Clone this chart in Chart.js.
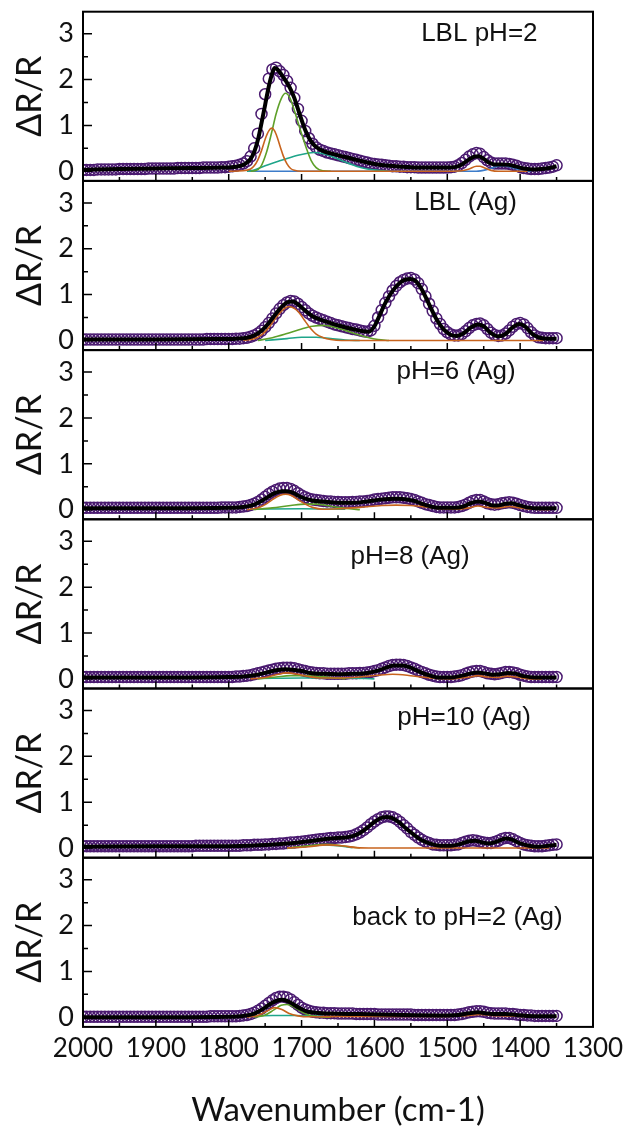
<!DOCTYPE html>
<html><head><meta charset="utf-8">
<script src="https://cdn.jsdelivr.net/npm/chart.js@4.4.1/dist/chart.umd.min.js"></script>
<style>
html,body{margin:0;padding:0;background:#fff;}
#wrap{position:relative;width:628px;height:1133px;background:#fff;}
#wrap canvas{position:absolute;left:0;top:0;}
</style></head><body><div id="wrap"></div>
<script>
// ---------- data ----------
const wavenumber = [2000,1995,1990,1985,1980,1975,1970,1965,1960,1955,1950,1945,1940,1935,1930,1925,1920,1915,1910,1905,1900,
1895,1890,1885,1880,1875,1870,1865,1860,1855,1850,1845,1840,1835,1830,1825,1820,1815,1810,1805,1800,
1795,1790,1785,1780,1775,1770,1765,1760,1755,1750,1745,1740,1735,1730,1725,1720,1715,1710,1705,1700,
1695,1690,1685,1680,1675,1670,1665,1660,1655,1650,1645,1640,1635,1630,1625,1620,1615,1610,1605,1600,
1595,1590,1585,1580,1575,1570,1565,1560,1555,1550,1545,1540,1535,1530,1525,1520,1515,1510,1505,1500,
1495,1490,1485,1480,1475,1470,1465,1460,1455,1450,1445,1440,1435,1430,1425,1420,1415,1410,1405,1400,
1395,1390,1385,1380,1375,1370,1365,1360,1355,1350];

const xTickValues = [2000,1900,1800,1700,1600,1500,1400,1300];
const xMinorTickValues = [1950,1850,1750,1650,1550,1450,1350];
const yTickValues = [0,1,2,3];
const yMinorTickValues = [0.5,1.5,2.5];

const panelLabels = ['LBL pH=2','LBL (Ag)','pH=6 (Ag)','pH=8 (Ag)','pH=10 (Ag)','back to pH=2 (Ag)'];

// panel 1 : LBL pH=2
const p1Data = [0.03,0.03,0.03,0.03,0.04,0.04,0.04,0.04,0.04,0.04,0.05,0.05,0.05,0.05,0.05,0.05,0.05,0.05,0.06,0.06,0.06,
0.06,0.06,0.06,0.06,0.06,0.07,0.07,0.07,0.07,0.07,0.07,0.07,0.08,0.08,0.08,0.08,0.08,0.09,0.09,0.10,
0.11,0.12,0.14,0.17,0.22,0.32,0.50,0.82,1.25,1.68,2.02,2.22,2.26,2.18,2.10,1.97,1.82,1.60,1.36,1.10,
0.88,0.72,0.60,0.52,0.47,0.44,0.41,0.39,0.37,0.35,0.33,0.31,0.29,0.27,0.25,0.23,0.21,0.19,0.17,0.16,
0.15,0.14,0.13,0.12,0.11,0.11,0.10,0.10,0.09,0.09,0.09,0.08,0.08,0.08,0.08,0.08,0.08,0.08,0.08,0.08,
0.09,0.10,0.13,0.18,0.25,0.32,0.37,0.40,0.38,0.31,0.24,0.19,0.17,0.17,0.17,0.17,0.16,0.14,0.12,0.09,
0.07,0.06,0.05,0.05,0.05,0.06,0.07,0.08,0.10,0.13];
const p1Fit = [[2000,0.03],[1950,0.05],[1900,0.06],[1850,0.07],[1810,0.08],[1790,0.10],[1780,0.14],[1775,0.19],[1770,0.27],[1765,0.42],[1760,0.68],[1755,1.05],[1750,1.45],[1745,1.85],[1740,2.15],[1737,2.25],[1733,2.22],[1728,2.12],[1722,1.98],[1716,1.82],[1710,1.60],[1705,1.36],[1700,1.12],[1695,0.90],[1690,0.73],[1685,0.61],[1680,0.53],[1670,0.44],[1660,0.39],[1640,0.31],[1620,0.23],[1600,0.16],[1580,0.12],[1560,0.10],[1540,0.08],[1500,0.08],[1490,0.09],[1480,0.15],[1470,0.26],[1463,0.32],[1457,0.33],[1450,0.27],[1443,0.19],[1435,0.15],[1425,0.15],[1415,0.14],[1405,0.10],[1395,0.06],[1380,0.04],[1370,0.05],[1360,0.07],[1350,0.11]];
const p1Orange = [[1800,0],[1780,0.01],[1770,0.05],[1765,0.12],[1760,0.25],[1755,0.45],[1750,0.70],[1745,0.88],[1741,0.94],[1737,0.88],[1733,0.72],[1729,0.52],[1725,0.33],[1720,0.16],[1715,0.06],[1710,0.02],[1700,0],[1600,0],[1500,0],[1480,0.01],[1470,0.05],[1460,0.11],[1455,0.11],[1450,0.08],[1440,0.02],[1430,0],[1390,0]];
const p1Green = [[1770,0],[1764,0.01],[1756,0.10],[1748,0.42],[1741,0.85],[1735,1.25],[1728,1.58],[1722,1.70],[1716,1.60],[1710,1.33],[1704,1.02],[1698,0.72],[1692,0.44],[1687,0.24],[1680,0.08],[1671,0.01],[1660,0]];
const p1Teal = [[1775,0],[1765,0.03],[1750,0.12],[1735,0.20],[1720,0.28],[1705,0.35],[1690,0.40],[1683,0.41],[1670,0.38],[1655,0.30],[1640,0.20],[1625,0.11],[1610,0.05],[1595,0.02],[1580,0]];
const p1Blue = [[1772,0],[1700,0],[1600,0],[1500,0],[1460,0],[1445,0.04],[1435,0.09],[1425,0.12],[1415,0.10],[1405,0.05],[1395,0.01],[1385,0]];

// panel 2 : LBL (Ag)
const p2Data = [0.02,0.02,0.02,0.02,0.02,0.02,0.02,0.02,0.02,0.02,0.02,0.02,0.02,0.02,0.02,0.02,0.02,0.02,0.02,0.02,0.02,
0.02,0.02,0.02,0.02,0.02,0.02,0.02,0.02,0.02,0.02,0.02,0.02,0.02,0.03,0.03,0.03,0.03,0.03,0.03,0.03,
0.03,0.04,0.04,0.05,0.06,0.08,0.11,0.15,0.21,0.29,0.38,0.48,0.59,0.69,0.77,0.83,0.86,0.85,0.80,0.73,
0.66,0.59,0.54,0.50,0.47,0.44,0.41,0.38,0.35,0.33,0.31,0.29,0.27,0.25,0.24,0.22,0.20,0.19,0.22,0.32,
0.50,0.66,0.82,0.96,1.09,1.19,1.27,1.32,1.35,1.36,1.33,1.25,1.12,0.96,0.80,0.64,0.48,0.36,0.25,0.18,
0.13,0.11,0.11,0.14,0.20,0.27,0.33,0.36,0.37,0.33,0.25,0.17,0.12,0.10,0.11,0.15,0.22,0.30,0.36,0.38,
0.35,0.27,0.18,0.11,0.07,0.06,0.05,0.05,0.05,0.05];
const p2Fit = [[2000,0.02],[1900,0.02],[1820,0.03],[1790,0.04],[1775,0.06],[1765,0.11],[1755,0.21],[1745,0.38],[1735,0.59],[1725,0.77],[1718,0.84],[1712,0.85],[1705,0.79],[1695,0.65],[1685,0.53],[1675,0.46],[1660,0.38],[1645,0.31],[1630,0.25],[1615,0.20],[1608,0.19],[1600,0.31],[1592,0.58],[1585,0.82],[1575,1.08],[1565,1.26],[1557,1.33],[1550,1.34],[1543,1.29],[1535,1.11],[1525,0.79],[1515,0.47],[1505,0.24],[1495,0.12],[1487,0.10],[1478,0.15],[1468,0.28],[1458,0.35],[1450,0.31],[1440,0.16],[1430,0.09],[1420,0.14],[1410,0.29],[1401,0.36],[1393,0.30],[1383,0.14],[1373,0.06],[1360,0.04],[1350,0.04]];
const p2Orange = [[1780,0],[1765,0.04],[1755,0.12],[1745,0.28],[1735,0.50],[1725,0.68],[1718,0.74],[1710,0.70],[1703,0.60],[1696,0.44],[1689,0.29],[1680,0.14],[1670,0.06],[1660,0.02],[1645,0],[1550,0],[1450,0],[1368,0]];
const p2Green = [[1760,0],[1740,0.06],[1720,0.15],[1700,0.25],[1685,0.31],[1670,0.33],[1655,0.29],[1640,0.22],[1625,0.14],[1610,0.07],[1595,0.02],[1580,0]];
const p2Teal = [[1750,0],[1720,0.04],[1700,0.07],[1680,0.07],[1660,0.04],[1640,0.01],[1620,0]];

// panel 3 : pH=6 (Ag)
const p3Data = [0.04,0.04,0.04,0.04,0.04,0.04,0.04,0.04,0.04,0.04,0.04,0.04,0.04,0.04,0.04,0.04,0.04,0.04,0.04,0.04,0.04,
0.04,0.04,0.04,0.04,0.04,0.04,0.04,0.04,0.04,0.04,0.04,0.04,0.04,0.04,0.04,0.04,0.04,0.05,0.05,0.05,
0.05,0.05,0.06,0.07,0.08,0.10,0.13,0.17,0.22,0.28,0.34,0.39,0.43,0.46,0.47,0.47,0.45,0.41,0.36,0.31,
0.27,0.24,0.22,0.21,0.20,0.19,0.18,0.18,0.17,0.17,0.16,0.16,0.16,0.17,0.17,0.18,0.18,0.19,0.20,0.22,
0.23,0.24,0.25,0.26,0.27,0.27,0.27,0.26,0.25,0.23,0.21,0.18,0.15,0.12,0.10,0.08,0.06,0.05,0.05,0.05,
0.05,0.05,0.06,0.08,0.11,0.15,0.19,0.21,0.21,0.18,0.14,0.12,0.11,0.12,0.14,0.15,0.16,0.15,0.13,0.10,
0.08,0.06,0.05,0.04,0.04,0.04,0.04,0.04,0.04,0.04];
const p3Fit = [[2000,0.03],[1900,0.03],[1800,0.04],[1780,0.06],[1765,0.11],[1755,0.19],[1745,0.29],[1735,0.37],[1727,0.40],[1720,0.40],[1712,0.37],[1705,0.31],[1695,0.24],[1685,0.20],[1670,0.18],[1650,0.15],[1630,0.15],[1610,0.18],[1590,0.22],[1575,0.24],[1565,0.24],[1555,0.22],[1545,0.19],[1535,0.13],[1520,0.06],[1505,0.04],[1490,0.04],[1478,0.07],[1468,0.14],[1458,0.18],[1450,0.16],[1440,0.10],[1432,0.09],[1420,0.13],[1412,0.14],[1402,0.10],[1390,0.05],[1375,0.03],[1350,0.03]];
const p3Orange = [[1775,0],[1760,0.04],[1750,0.11],[1740,0.22],[1730,0.31],[1722,0.34],[1714,0.31],[1705,0.22],[1695,0.12],[1685,0.05],[1670,0.01],[1650,0.02],[1620,0.05],[1590,0.09],[1570,0.10],[1550,0.09],[1530,0.06],[1510,0.02],[1490,0.01],[1470,0.04],[1458,0.08],[1445,0.05],[1430,0.04],[1415,0.07],[1400,0.04],[1380,0.01],[1360,0]];
const p3Green = [[1765,0],[1740,0.04],[1715,0.09],[1695,0.12],[1680,0.12],[1665,0.09],[1650,0.05],[1635,0.02],[1620,0]];
const p3Teal = [[1770,0.01],[1700,0.02],[1640,0.01]];

// panel 4 : pH=8 (Ag)
const p4Data = [0.04,0.04,0.04,0.04,0.04,0.04,0.04,0.04,0.04,0.04,0.04,0.04,0.04,0.04,0.04,0.04,0.04,0.04,0.04,0.04,0.04,
0.04,0.04,0.04,0.04,0.04,0.04,0.04,0.04,0.04,0.04,0.04,0.04,0.04,0.04,0.04,0.04,0.04,0.04,0.04,0.04,
0.04,0.05,0.05,0.06,0.07,0.08,0.10,0.12,0.14,0.16,0.18,0.20,0.22,0.23,0.24,0.24,0.24,0.23,0.21,0.19,
0.17,0.15,0.14,0.13,0.12,0.12,0.11,0.11,0.11,0.11,0.11,0.11,0.12,0.12,0.12,0.13,0.13,0.14,0.15,0.17,
0.19,0.22,0.25,0.28,0.30,0.31,0.31,0.30,0.28,0.25,0.22,0.18,0.15,0.12,0.09,0.07,0.05,0.04,0.04,0.04,
0.04,0.05,0.06,0.08,0.11,0.14,0.16,0.17,0.17,0.15,0.12,0.11,0.10,0.11,0.13,0.15,0.15,0.14,0.12,0.09,
0.07,0.05,0.04,0.04,0.04,0.04,0.04,0.04,0.04,0.04];
const p4Fit = [[2000,0.03],[1900,0.03],[1800,0.04],[1780,0.05],[1765,0.08],[1750,0.13],[1735,0.19],[1722,0.21],[1712,0.20],[1700,0.17],[1688,0.13],[1670,0.11],[1650,0.10],[1630,0.11],[1610,0.13],[1595,0.18],[1583,0.25],[1572,0.29],[1563,0.29],[1553,0.26],[1540,0.17],[1525,0.08],[1510,0.03],[1495,0.03],[1480,0.07],[1468,0.12],[1458,0.14],[1448,0.12],[1438,0.09],[1428,0.10],[1417,0.13],[1408,0.12],[1395,0.06],[1380,0.03],[1350,0.03]];
const p4Orange = [[1770,0],[1750,0.03],[1735,0.09],[1720,0.13],[1705,0.10],[1690,0.05],[1675,0.02],[1650,0.02],[1620,0.04],[1595,0.08],[1575,0.10],[1555,0.08],[1535,0.04],[1515,0.01],[1495,0],[1470,0.04],[1458,0.07],[1445,0.04],[1430,0.03],[1418,0.06],[1405,0.04],[1385,0],[1370,0]];
const p4Green = [[1760,0],[1735,0.04],[1715,0.07],[1695,0.07],[1675,0.05],[1655,0.02],[1640,0]];
const p4Teal = [[1760,0.01],[1700,0.02],[1640,0.02],[1600,0]];

// panel 5 : pH=10 (Ag)
const p5Data = [0.04,0.04,0.04,0.04,0.04,0.04,0.04,0.04,0.04,0.04,0.04,0.04,0.04,0.04,0.04,0.04,0.04,0.04,0.04,0.04,0.04,
0.04,0.04,0.04,0.04,0.04,0.04,0.04,0.04,0.04,0.04,0.05,0.05,0.05,0.05,0.05,0.05,0.05,0.05,0.05,0.05,
0.05,0.05,0.05,0.06,0.06,0.06,0.07,0.07,0.07,0.08,0.08,0.09,0.09,0.10,0.10,0.11,0.12,0.12,0.13,0.14,
0.15,0.16,0.17,0.18,0.19,0.20,0.21,0.22,0.22,0.23,0.23,0.24,0.25,0.27,0.30,0.34,0.39,0.45,0.52,0.58,
0.63,0.67,0.69,0.69,0.67,0.63,0.57,0.50,0.43,0.35,0.29,0.23,0.18,0.14,0.11,0.08,0.07,0.06,0.06,0.06,
0.06,0.07,0.08,0.11,0.14,0.16,0.17,0.16,0.14,0.12,0.11,0.11,0.13,0.16,0.20,0.22,0.22,0.19,0.15,0.11,
0.08,0.06,0.05,0.04,0.04,0.04,0.05,0.06,0.07,0.08];
const p5Fit = [[2000,0.03],[1900,0.04],[1800,0.04],[1760,0.06],[1720,0.10],[1690,0.15],[1660,0.21],[1640,0.23],[1630,0.26],[1620,0.33],[1610,0.44],[1600,0.57],[1592,0.65],[1584,0.68],[1576,0.66],[1566,0.56],[1556,0.42],[1545,0.28],[1535,0.17],[1522,0.09],[1510,0.05],[1495,0.05],[1482,0.09],[1470,0.15],[1462,0.16],[1452,0.12],[1442,0.10],[1432,0.14],[1420,0.21],[1412,0.19],[1400,0.10],[1388,0.05],[1375,0.03],[1362,0.05],[1350,0.07]];
const p5Orange = [[1720,0],[1690,0.03],[1665,0.07],[1645,0.05],[1625,0.01],[1600,0],[1500,0],[1400,0],[1360,0]];
const p5Green = [[1720,0],[1690,0.05],[1665,0.08],[1640,0.04],[1620,0]];
const p5Teal = [[1720,0],[1690,0.04],[1670,0.07],[1650,0.05],[1630,0.01]];

// panel 6 : back to pH=2 (Ag)
const p6Data = [0.01,0.01,0.01,0.01,0.01,0.01,0.01,0.01,0.01,0.01,0.01,0.01,0.01,0.01,0.01,0.01,0.01,0.01,0.01,0.01,0.01,
0.01,0.01,0.01,0.01,0.01,0.01,0.01,0.01,0.01,0.01,0.01,0.01,0.01,0.01,0.02,0.02,0.02,0.02,0.02,0.02,
0.02,0.02,0.03,0.04,0.05,0.07,0.10,0.14,0.19,0.25,0.31,0.37,0.42,0.45,0.45,0.43,0.39,0.33,0.27,0.21,
0.17,0.14,0.12,0.11,0.10,0.10,0.09,0.09,0.09,0.08,0.08,0.08,0.08,0.08,0.07,0.07,0.07,0.07,0.07,0.07,
0.06,0.06,0.06,0.06,0.06,0.06,0.06,0.06,0.06,0.06,0.05,0.05,0.05,0.05,0.05,0.05,0.05,0.05,0.05,0.05,
0.05,0.05,0.06,0.07,0.09,0.11,0.12,0.13,0.13,0.12,0.10,0.09,0.08,0.08,0.08,0.08,0.07,0.07,0.06,0.05,
0.05,0.04,0.04,0.03,0.03,0.03,0.03,0.03,0.03,0.03];
const p6Fit = [[2000,0.00],[1900,0.00],[1800,0.01],[1780,0.03],[1765,0.08],[1752,0.19],[1742,0.30],[1734,0.36],[1727,0.38],[1720,0.36],[1712,0.29],[1703,0.20],[1693,0.13],[1680,0.10],[1660,0.08],[1620,0.07],[1560,0.05],[1500,0.04],[1485,0.05],[1470,0.09],[1458,0.11],[1448,0.09],[1435,0.07],[1420,0.07],[1405,0.05],[1390,0.03],[1370,0.02],[1350,0.02]];
const p6Orange = [[1775,0],[1760,0.04],[1748,0.13],[1737,0.21],[1727,0.17],[1717,0.08],[1705,0.03],[1690,0.01],[1650,0.02],[1600,0.02],[1500,0.02],[1470,0.04],[1455,0.06],[1440,0.04],[1420,0.03],[1400,0.02],[1370,0.01],[1350,0.01]];
const p6Green = [[1765,0],[1750,0.05],[1738,0.16],[1728,0.26],[1720,0.28],[1710,0.22],[1700,0.12],[1690,0.05],[1675,0.01],[1660,0]];
const p6Teal = [[1765,0.03],[1740,0.04],[1710,0.04],[1690,0.03],[1670,0.02]];

// ---------- layout / style ----------
const PANEL_TOP = 11.7, PANEL_H = 169.2, AXIS_RIGHT = 593, AXIS_LEFT = 83, W = 628, H = 1133;
const Y_MIN = -0.21, Y_MAX = 3.48;
const labelAnchorWn = [1456,1475,1488,1551,1477,1486];
const labelAnchorY = [3.0,3.01,3.0,2.66,2.84,2.16];
const PURPLE = '#4a1a70', ORANGE = '#c8641e', GREEN = '#5ea02a', TEAL = '#1fa58a', BLUE = '#3d7cc9';

const panels = [
  {data:p1Data, fit:p1Fit, comps:[[p1Orange,ORANGE],[p1Green,GREEN],[p1Teal,TEAL],[p1Blue,BLUE]]},
  {data:p2Data, fit:p2Fit, comps:[[p2Orange,ORANGE],[p2Green,GREEN],[p2Teal,TEAL]]},
  {data:p3Data, fit:p3Fit, comps:[[p3Orange,ORANGE],[p3Green,GREEN],[p3Teal,TEAL]]},
  {data:p4Data, fit:p4Fit, comps:[[p4Orange,ORANGE],[p4Green,GREEN],[p4Teal,TEAL]]},
  {data:p5Data, fit:p5Fit, comps:[[p5Orange,ORANGE],[p5Green,GREEN],[p5Teal,TEAL]]},
  {data:p6Data, fit:p6Fit, comps:[[p6Orange,ORANGE],[p6Green,GREEN],[p6Teal,TEAL]]}
];

const framePlugin = {
  id: 'frame',
  afterDraw(chart, args, opts) {
    const {ctx, chartArea: a} = chart;
    const x = chart.scales.x, y = chart.scales.y;
    ctx.save();
    ctx.strokeStyle = '#000';
    ctx.lineWidth = 1.5;
    ctx.beginPath();
    xTickValues.forEach(v => { if (v > 1300 && v < 2000) { const p = x.getPixelForValue(v); ctx.moveTo(p, a.bottom); ctx.lineTo(p, a.bottom - 7); } });
    xMinorTickValues.forEach(v => { const p = x.getPixelForValue(v); ctx.moveTo(p, a.bottom); ctx.lineTo(p, a.bottom - 4); });
    yTickValues.forEach(v => { const p = y.getPixelForValue(v); ctx.moveTo(a.left, p); ctx.lineTo(a.left + 9, p); });
    yMinorTickValues.forEach(v => { const p = y.getPixelForValue(v); ctx.moveTo(a.left, p); ctx.lineTo(a.left + 5, p); });
    ctx.stroke();
    ctx.lineWidth = 2;
    ctx.strokeRect(a.left, a.top, a.right - a.left, a.bottom - a.top);
    ctx.fillStyle = '#111';
    ctx.font = '26px "Liberation Sans", Arial, sans-serif';
    ctx.textAlign = 'center';
    ctx.textBaseline = 'middle';
    ctx.fillText(opts.label, x.getPixelForValue(opts.wn), y.getPixelForValue(opts.val));
    ctx.restore();
  }
};

const wrap = document.getElementById('wrap');
panels.forEach((p, i) => {
  const cv = document.createElement('canvas');
  cv.width = W; cv.height = H;
  cv.style.width = W + 'px'; cv.style.height = H + 'px';
  wrap.appendChild(cv);
  const top = PANEL_TOP + i * PANEL_H;
  const last = i === panels.length - 1;
  const bottomPad = last ? 0 : H - (top + PANEL_H);
  const datasets = [];
  datasets.push({data: p.fit.map(([x, y]) => ({x, y})), borderColor: '#000', borderWidth: 4,
    pointRadius: 0, cubicInterpolationMode: 'monotone', fill: false});
  p.comps.forEach(([arr, col]) => datasets.push({data: arr.map(([x, y]) => ({x, y})), borderColor: col,
    borderWidth: 1.6, pointRadius: 0, cubicInterpolationMode: 'monotone', fill: false}));
  datasets.push({data: wavenumber.map((x, k) => ({x, y: p.data[k]})), showLine: false,
    pointStyle: 'circle', pointRadius: 5.5, pointBorderWidth: 1.5, pointBorderColor: PURPLE,
    pointBackgroundColor: 'rgba(255,255,255,0)'});
  new Chart(cv, {
    type: 'line',
    data: {datasets},
    plugins: [framePlugin],
    options: {
      responsive: false, animation: false, devicePixelRatio: 1, events: [],
      layout: {padding: {top: top, bottom: bottomPad, left: 0, right: W - AXIS_RIGHT}},
      plugins: {legend: {display: false}, tooltip: {enabled: false},
        frame: {label: panelLabels[i], wn: labelAnchorWn[i], val: labelAnchorY[i]}},
      scales: {
        x: {
          type: 'linear', reverse: true, min: 1300, max: 2000,
          afterBuildTicks: s => { s.ticks = xTickValues.map(v => ({value: v})); },
          afterFit: s => { s.height = last ? H - (top + PANEL_H) : 0; s.paddingLeft = 0; s.paddingRight = 0; },
          grid: {display: false, drawTicks: false}, border: {display: false},
          ticks: {display: last, autoSkip: false, maxRotation: 0, padding: 6, color: '#111',
            font: {family: 'Lato', size: 26}, callback: v => String(v)},
          title: {display: last, text: 'Wavenumber (cm-1)', color: '#111',
            font: {family: 'Lato', size: 33}, padding: {top: 0, bottom: 3}}
        },
        y: {
          type: 'linear', min: Y_MIN, max: Y_MAX,
          afterBuildTicks: s => { s.ticks = yTickValues.map(v => ({value: v})); },
          afterFit: s => { s.width = AXIS_LEFT; s.paddingTop = 0; s.paddingBottom = 0; },
          grid: {display: false, drawTicks: false}, border: {display: false},
          ticks: {padding: 9, color: '#111', font: {family: 'Lato', size: 27}, callback: v => String(v)},
          title: {display: true, text: 'ΔR/R', color: '#111',
            font: {family: 'Lato', size: 34}, padding: {top: 10, bottom: 0}}
        }
      }
    }
  });
});
</script></body></html>
